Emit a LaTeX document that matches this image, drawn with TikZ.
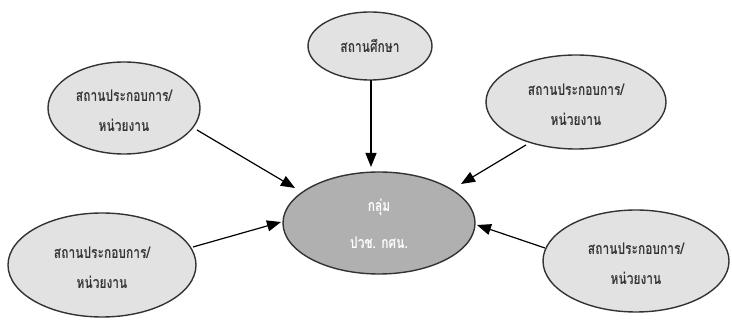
\documentclass[tikz,border=0pt]{standalone}
\usepackage{fontspec}
\setmainfont{Liberation Sans}
\newfontfamily\thaifont[Script=Thai,FakeStretch=0.75]{Loma}
\usetikzlibrary{arrows.meta}
\definecolor{outerfill}{HTML}{E2E2E2}
\definecolor{centerfill}{HTML}{B0B0B0}
\definecolor{edgec}{HTML}{333333}
\definecolor{textc}{HTML}{333333}
\begin{document}
\begin{tikzpicture}[x=1pt,y=-1pt,
  bubble/.style={draw=edgec,line width=1.4pt,fill=outerfill},
  centerbubble/.style={draw=edgec,line width=1.4pt,fill=centerfill},
  lbl/.style={font=\thaifont\bfseries\fontsize{16}{18}\selectfont,text=textc,align=center},
  clbl/.style={font=\thaifont\bfseries\fontsize{16}{18}\selectfont,text=white,align=center},
  conn/.style={draw=black,line width=1.2pt,-{Triangle[length=14pt,width=11pt]}}]
\useasboundingbox (0,0) rectangle (732,320);
% ellipses
\draw[centerbubble] (379,223) ellipse [x radius=96,y radius=51];
\draw[bubble] (370,46) ellipse [x radius=62,y radius=34];
\draw[bubble] (124,108) ellipse [x radius=76,y radius=46];
\draw[bubble] (576,102) ellipse [x radius=90,y radius=47];
\draw[bubble] (102,265) ellipse [x radius=94,y radius=52];
\draw[bubble] (636,261) ellipse [x radius=93,y radius=51];
% labels
\node[clbl] (c) at (379,224) {กลุ่ม\\[19pt]ปวช. กศน.};
\node[lbl] (t) at (370,46) {สถานศึกษา};
\node[lbl] (tl) at (124,111) {สถานประกอบการ/\\[12pt]หน่วยงาน};
\node[lbl] (tr) at (576,105) {สถานประกอบการ/\\[12pt]หน่วยงาน};
\node[lbl] (bl) at (102,268) {สถานประกอบการ/\\[12pt]หน่วยงาน};
\node[lbl] (br) at (636,264) {สถานประกอบการ/\\[12pt]หน่วยงาน};
% connector endpoints
\coordinate (tls) at (197,130); \coordinate (tle) at (295,188);
\coordinate (ts) at (371,80); \coordinate (te) at (371,167);
\coordinate (trs) at (526,145); \coordinate (tre) at (461,184);
\coordinate (bls) at (193,247); \coordinate (ble) at (281,222);
\coordinate (brs) at (545,248); \coordinate (bre) at (477,225);
\draw[conn] (tls) -- (tle);
\draw[conn] (ts) -- (te);
\draw[conn] (trs) -- (tre);
\draw[conn] (bls) -- (ble);
\draw[conn] (brs) -- (bre);
\end{tikzpicture}
\end{document}
